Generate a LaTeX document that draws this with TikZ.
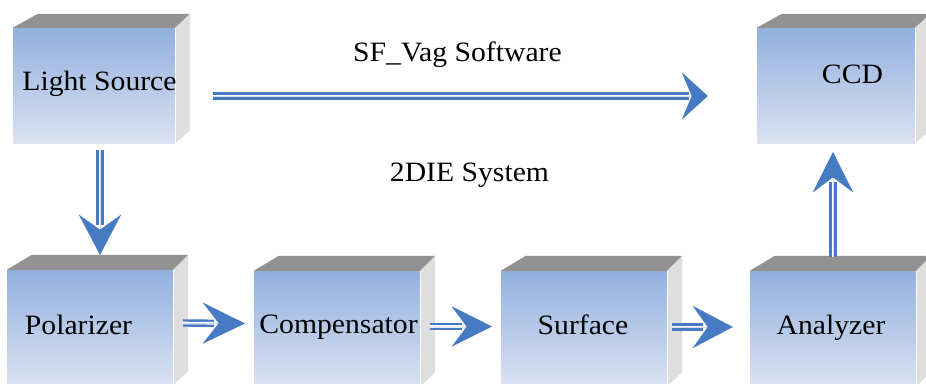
\documentclass[tikz,border=0pt]{standalone}
\usepackage{fontspec}
\setmainfont[FakeStretch=1.06]{Liberation Serif}
\usetikzlibrary{arrows.meta,calc}
\definecolor{frontTop}{RGB}{146,176,222}
\definecolor{frontBot}{RGB}{218,226,242}
\definecolor{topgray}{RGB}{146,146,146}
\definecolor{sidegray}{RGB}{222,222,222}
\definecolor{arrowblue}{RGB}{70,122,194}
\tikzset{
  front/.style={rectangle, minimum width=#1, minimum height=115pt, inner sep=0pt,
    top color=frontTop, bottom color=frontBot, draw=none},
  lbl/.style={anchor=base, font=\fontsize{28}{30}\selectfont, text=black, inner sep=0pt},
  shaft/.style={draw=arrowblue, line width=2.4pt, double=white, double distance=2.6pt},
  headtip/.style={draw=arrowblue, fill=arrowblue, line width=0.01pt},
}
\newcommand\cubefaces[2]{%
  \fill[topgray] (#1.north west) -- ++(25,-#2) -- ($(#1.north east)+(15,-#2)$) -- (#1.north east) -- cycle;
  \fill[sidegray] (#1.north east) -- ++(15,-#2) -- ($(#1.south east)+(15,-#2+1)$) -- (#1.south east) -- cycle;
  \draw[white, line width=1pt] (#1.north east) -- (#1.south east);
}
% #1 start, #2 end, #3 length, #4 width, #5 inset
\newcommand\dblarrow[5]{%
  \draw[shaft, shorten >=#3-0.7*#5] #1 -- #2;
  \draw[headtip, -{Stealth[length=#3, width=#4, inset=#5]}] #1 -- #2;
}
\begin{document}
\begin{tikzpicture}[x=1pt,y=-1pt]
\useasboundingbox[fill=white] (0,0) rectangle (926,383);
% boxes
\node[front=162pt] (ls) at (94,85.5) {};
\node[front=158pt] (ccd) at (836,85.5) {};
\node[front=166pt] (pol) at (90,327.5) {};
\node[front=166pt] (comp) at (337,328.5) {};
\node[front=166pt] (surf) at (584,328.5) {};
\node[front=166pt] (ana) at (833,328.5) {};
\cubefaces{ls}{14}
\cubefaces{ccd}{14}
\cubefaces{pol}{15}
\cubefaces{comp}{15}
\cubefaces{surf}{15}
\cubefaces{ana}{15}
% labels
\node[lbl] (lsT) at ($(ls.center)+(5.5,4.5)$) {Light Source};
\node[lbl] (ccdT) at ($(ccd.center)+(16.5,-2.5)$) {CCD};
\node[lbl] (polT) at ($(pol.center)+(-11.5,6.5)$) {Polarizer};
\node[lbl] (compT) at ($(comp.center)+(1.5,5)$) {Compensator};
\node[lbl] (surfT) at ($(surf.center)+(-1,5.5)$) {Surface};
\node[lbl] (anaT) at ($(ana.center)+(-2,5.5)$) {Analyzer};
\node[lbl] (sfT) at (457.5,61) {SF\_Vag Software};
\node[lbl] (sysT) at (469.5,181) {2DIE System};
% connectors
\coordinate (a1s) at ($(ls.east)+(38,10.5)$);
\coordinate (a1e) at ($(ccd.west)+(-49,10.5)$);
\dblarrow{(a1s)}{(a1e)}{26pt}{47pt}{10pt}
\coordinate (a2s) at ($(ls.south)+(6,7)$);
\coordinate (a2e) at ($(pol.north)+(10,-15)$);
\dblarrow{(a2s)}{(a2e)}{40pt}{42pt}{15pt}
\coordinate (a3s) at ($(pol.east)+(10,-4.5)$);
\coordinate (a3e) at ($(comp.west)+(-9,-5)$);
\dblarrow{(a3s)}{(a3e)}{42pt}{41pt}{16pt}
\coordinate (a4s) at ($(comp.east)+(10,-2)$);
\coordinate (a4e) at ($(surf.west)+(-9,-2)$);
\dblarrow{(a4s)}{(a4e)}{40pt}{40pt}{15pt}
\coordinate (a5s) at ($(surf.east)+(5,-1.5)$);
\coordinate (a5e) at ($(ana.west)+(-17,-1.5)$);
\dblarrow{(a5s)}{(a5e)}{40pt}{42pt}{15pt}
\coordinate (a6s) at ($(ana.north)+(0,-14)$);
\coordinate (a6e) at ($(ccd.south)+(-3,9)$);
\dblarrow{(a6s)}{(a6e)}{40pt}{40pt}{15pt}
\end{tikzpicture}
\end{document}
